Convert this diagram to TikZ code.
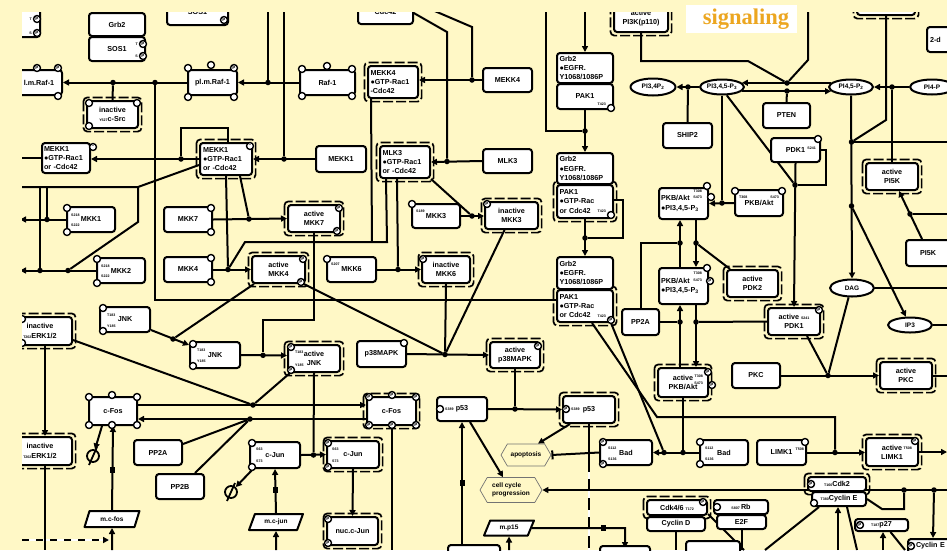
\documentclass[tikz,border=0pt]{standalone}
\usepackage{fontspec}
\setmainfont{Liberation Sans}
\newfontfamily\titleserif{Liberation Serif}
\usetikzlibrary{arrows.meta,shapes.geometric,shapes.symbols,calc}
\definecolor{paper}{RGB}{255,248,198}
\definecolor{gold}{RGB}{236,166,32}
\pgfdeclarelayer{edges}
\pgfsetlayers{edges,main}
\newcommand\tinyf{\fontsize{3.6}{4}\selectfont}
% \bx[opts]{name}{x1}{y1}{x2}{y2}{text}: box from corner to corner
\newcommand\bx[7][]{%
  \pgfmathsetmacro\bxcx{(#3+#5)/2}%
  \pgfmathsetmacro\bxcy{(#4+#6)/2}%
  \pgfmathsetmacro\bxw{#5-#3}%
  \pgfmathsetmacro\bxh{#6-#4}%
  \node[box,minimum width=\bxw pt,minimum height=\bxh pt,#1] (#2) at (\bxcx,\bxcy) {#7};}
\newcommand\site[4]{\node[site] (#1) at (#2,#3) {#4};}
\begin{document}
\begin{tikzpicture}[x=1pt,y=-1pt,line join=round,
  box/.style={draw,line width=2pt,rounded corners=3pt,fill=white,inner sep=1pt,
    font=\fontsize{7.2}{9.2}\selectfont\bfseries,align=center},
  lbox/.style={align=left},
  site/.style={circle,draw,line width=1.4pt,fill=white,minimum size=7pt,inner sep=0pt,
    font=\fontsize{4.6}{5}\selectfont\bfseries},
  lab/.style={font=\tinyf\bfseries,inner sep=0pt},
  ell/.style={ellipse,draw,line width=2pt,fill=white,inner sep=0pt,
    font=\fontsize{6.5}{7}\selectfont\bfseries},
  hexa/.style={signal,signal to=east and west,signal pointer angle=120,draw=black!55,
    line width=0.7pt,fill=paper,inner sep=1pt,font=\fontsize{6.5}{8}\selectfont\bfseries,align=left},
  para/.style={trapezium,trapezium left angle=62,trapezium right angle=118,trapezium stretches=true,
    draw,line width=2pt,fill=white,inner sep=0pt,font=\fontsize{6.5}{7}\selectfont\bfseries},
  degr/.style={circle,draw,line width=1.8pt,minimum size=12pt,inner sep=0pt},
  tmark/.style={fill,inner sep=0pt,minimum width=5pt,minimum height=6pt},
  dot/.style={circle,fill,inner sep=0pt,minimum size=5.5pt},
  ln/.style={line width=2pt},
  ar/.style={line width=2pt,-{Triangle[length=6pt,width=6pt]}},
  inh/.style={line width=2pt,-{Bar[width=9pt,line width=2pt]}},
  dframe/.style={line width=1.7pt,dash pattern=on 10pt off 3pt,rounded corners=4pt}]
\useasboundingbox (0,0) rectangle (947,550);

\begin{scope}
\clip (22,12) rectangle (947,550);
% ---------- upper left: Raf / SOS / c-Src / MEKK1
\bx{tlc}{-20}{5}{40}{37}{}
\site{tlcA}{37}{19}{P}\site{tlcB}{37}{33}{P}
\node[lab,anchor=east] (lb3) at (32,19) {T};
\node[lab,anchor=east] (lb4) at (32,33) {S};
\bx{grb2a}{89}{13}{145}{36}{Grb2}
\bx{sos1a}{89}{37}{145}{61}{SOS1}
\site{sos1aA}{143}{44}{P}\site{sos1aB}{143}{56}{P}
\node[lab,anchor=east] (lb1) at (138,44) {T};
\node[lab,anchor=east] (lb2) at (138,56) {S};
\bx{sos1b}{167}{0}{228}{25}{SOS1}
\site{sos1bA}{224}{20}{P}
\bx{cdcT}{358}{0}{413}{24}{Cdc42}
\bx{lmraf}{16}{70}{62}{95}{l.m.Raf-1}
\site{lmrafA}{37}{68}{P}\site{lmrafB}{58}{68}{P}\site{lmrafC}{58}{96}{}
\bx{plmraf}{188}{70}{237}{95}{pl.m.Raf-1}
\site{plmrafA}{188}{68}{}\site{plmrafB}{211}{65}{}\site{plmrafC}{234}{68}{P}
\site{plmrafD}{188}{97}{}\site{plmrafE}{234}{97}{}
\bx{raf1}{300}{70}{355}{95}{Raf-1}
\site{raf1A}{302}{69}{}\site{raf1B}{327}{66}{}\site{raf1C}{352}{69}{}
\site{raf1D}{302}{96}{}\site{raf1E}{352}{96}{}
\bx{csrc}{87}{101}{138}{128}{inactive\\{\tinyf Y527}c-Src}
\site{csrcA}{89}{103}{}\site{csrcB}{137}{103}{}\site{csrcC}{89}{126}{}
\bx[lbox,text width=44pt]{mekk1L}{42}{143}{90}{173}{MEKK1\\●GTP-Rac1\\or -Cdc42}
\site{mekk1LA}{93}{147}{--}
\bx[lbox,text width=46pt]{mekk1C}{200}{143}{252}{175}{MEKK1\\●GTP-Rac1\\or -Cdc42}
\site{mekk1CA}{250}{146}{--}
\bx{mekk1}{316}{146}{366}{172}{MEKK1}
\bx[lbox,text width=45pt]{mekk4C}{368}{66}{418}{98}{MEKK4\\●GTP-Rac1\\-Cdc42}
\bx{mekk4}{483}{68}{532}{92}{MEKK4}
\bx[lbox,text width=45pt]{mlk3C}{380}{146}{430}{178}{MLK3\\●GTP-Rac1\\or -Cdc42}
\bx{mlk3}{483}{149}{532}{173}{MLK3}
% ---------- Grb2 / PAK1 column
\bx{pi3k}{614}{4}{668}{32}{active\\PI3K(p110)}
\bx[lbox,text width=51pt]{grb2b}{557}{53}{613}{83}{Grb2\\●EGFR.\\Y1068/1086P}
\bx{pak1a}{557}{84}{613}{109}{PAK1}
\site{pak1aA}{611}{108}{}
\node[lab,anchor=east] (lb5) at (606,104) {T423};
\bx[lbox,text width=51pt]{grb2c}{557}{153}{613}{184}{Grb2\\●EGFR.\\Y1068/1086P}
\bx[lbox,text width=51pt]{pak1b}{557}{185}{613}{218}{PAK1\\●GTP-Rac\\or Cdc42}
\site{pak1bA}{611}{215}{}
\node[lab,anchor=east] (lb6) at (606,211) {T423};
\bx[lbox,text width=51pt]{grb2d}{557}{257}{613}{289}{Grb2\\●EGFR.\\Y1068/1086P}
\bx[lbox,text width=51pt]{pak1c}{557}{290}{613}{322}{PAK1\\●GTP-Rac\\or Cdc42}
\site{pak1cA}{611}{320}{P}
\node[lab,anchor=east] (lb7) at (606,316) {T423};
% ---------- phosphoinositides
\node[ell,minimum width=45pt,minimum height=17pt] (pi34p2) at (653,87) {PI3,4P\textsubscript{2}};
\node[ell,minimum width=44pt,minimum height=15pt] (pip3) at (722,87) {PI3,4,5-P\textsubscript{3}};
\node[ell,minimum width=44pt,minimum height=15pt] (pip2) at (851,87) {PI4,5-P\textsubscript{2}};
\node[ell,minimum width=44pt,minimum height=15pt] (pi4p) at (932,87) {PI4-P};
\node[ell,minimum width=44pt,minimum height=17pt] (dag) at (852,288) {DAG};
\node[ell,minimum width=44pt,minimum height=15pt] (ip3) at (910,325) {IP3};
\bx{ship2}{663}{123}{712}{148}{SHIP2}
\bx{pten}{763}{103}{810}{128}{PTEN}
\bx{pdk1}{771}{138}{820}{162}{PDK1}
\site{pdk1A}{818}{139}{}
\node[lab,anchor=east] (lb8) at (816,148) {S241};
\bx{pi5kact}{866}{163}{918}{190}{active\\PI5K}
\bx{topr}{857}{-10}{915}{15}{}
\bx[lbox,text width=57pt]{twod}{927}{27}{990}{52}{2-d}
% ---------- PKB/Akt
\bx[lbox,text width=45pt]{pkbU}{659}{188}{708}{219}{PKB/Akt\\●PI3,4,5-P\textsubscript{3}}
\site{pkbUA}{707}{186}{}\site{pkbUB}{711}{197}{}
\node[lab,anchor=east] (lb9) at (702,191) {T308};
\node[lab,anchor=east] (lb10) at (702,197) {S473};
\bx{pkbF}{735}{190}{783}{216}{PKB/Akt}
\site{pkbFA}{735}{191}{}\site{pkbFB}{782}{191}{}
\node[lab,anchor=west] (lb11) at (739,197) {T308};
\node[lab,anchor=east] (lb12) at (779,197) {S473};
\bx[lbox,text width=45pt]{pkbL}{659}{268}{708}{304}{PKB/Akt\\●PI3,4,5-P\textsubscript{3}}
\site{pkbLA}{707}{268}{}\site{pkbLB}{710}{281}{P}
\node[lab,anchor=east] (lb13) at (702,273) {T308};
\node[lab,anchor=east] (lb14) at (702,280) {S473};
\bx{pdk2}{727}{270}{778}{297}{active\\PDK2}
\bx{pi5k}{906}{240}{950}{266}{PI5K}
\bx{pdk1act}{768}{308}{820}{335}{active {\tinyf S241}\\PDK1}
\site{pdk1actA}{819}{310}{P}
\bx{pp2aR}{622}{309}{659}{335}{PP2A}
\bx{pkbAct}{658}{368}{708}{397}{active\\PKB/Akt}
\site{pkbActA}{708}{372}{P}\site{pkbActB}{712}{385}{P}
\node[lab,anchor=east] (lb15) at (703,376) {T308};
\node[lab,anchor=east] (lb16) at (703,383) {S473};
\bx{pkc}{732}{363}{780}{388}{PKC}
\bx{pkcAct}{880}{362}{932}{389}{active\\PKC}
\bx{limk1}{757}{440}{806}{465}{LIMK1}
\site{limk1A}{805}{442}{}
\node[lab,anchor=east] (lb17) at (804,449) {T508};
\bx{limk1Act}{866}{438}{918}{466}{active\\LIMK1}
\site{limk1ActA}{915}{441}{P}
\node[lab,anchor=east] (lb18) at (912,448) {T508};
\bx{bad1}{600}{440}{652}{465}{Bad}
\site{bad1A}{603}{442}{P}\site{bad1B}{603}{464}{P}
\node[lab,anchor=west] (lb19) at (608,448) {S112};
\node[lab,anchor=west] (lb20) at (608,459) {S136};
\bx{bad2}{700}{440}{748}{465}{Bad}
\site{bad2A}{700}{442}{}\site{bad2B}{700}{464}{}
\node[lab,anchor=west] (lb21) at (705,448) {S112};
\node[lab,anchor=west] (lb22) at (705,459) {S136};
% ---------- p53 / p38
\bx{p53L}{437}{397}{487}{421}{p53}
\site{p53LA}{440}{409}{}
\node[lab,anchor=west] (lb23) at (445,409) {S389};
\bx{p53Act}{563}{396}{615}{423}{p53}
\site{p53ActA}{566}{409}{P}
\node[lab,anchor=west] (lb24) at (571,409) {S389};
\bx{p38}{357}{341}{406}{367}{p38MAPK}
\site{p38A}{404}{343}{}
\bx{p38Act}{490}{342}{540}{368}{active\\p38MAPK}
\site{p38ActA}{538}{346}{P}
% ---------- MAP2Ks
\bx{mkk7act}{288}{205}{340}{232}{active\\MKK7}
\site{mkk7actA}{339}{208}{P}\site{mkk7actB}{337}{231}{P}
\bx{mkk4act}{252}{256}{305}{283}{active\\MKK4}
\site{mkk4actA}{303}{259}{P}\site{mkk4actB}{301}{282}{P}
\bx{mkk3}{412}{204}{460}{228}{MKK3}
\site{mkk3A}{412}{204}{}
\node[lab,anchor=west] (lb25) at (416,211) {S189};
\bx{mkk3i}{485}{202}{538}{229}{inactive\\MKK3}
\site{mkk3iA}{487}{204}{P}
\bx{mkk6}{327}{257}{376}{282}{MKK6}
\site{mkk6A}{327}{259}{}
\node[lab,anchor=west] (lb26) at (331,264) {S207};
\bx{mkk6i}{422}{256}{470}{283}{inactive\\MKK6}
\site{mkk6iA}{423}{259}{P}
\bx{mkk1}{67}{207}{115}{232}{MKK1}
\site{mkk1A}{67}{208}{}\site{mkk1B}{67}{232}{}
\node[lab,anchor=west] (lb29) at (71,215) {S218};
\node[lab,anchor=west] (lb30) at (71,225) {S222};
\bx{mkk2}{97}{258}{145}{283}{MKK2}
\site{mkk2A}{97}{259}{}\site{mkk2B}{97}{283}{}
\node[lab,anchor=west] (lb31) at (101,266) {S218};
\node[lab,anchor=west] (lb32) at (101,276) {S222};
\bx{mkk7}{164}{207}{212}{232}{MKK7}
\site{mkk7A}{211}{208}{}\site{mkk7B}{211}{232}{}
\bx{mkk4}{164}{257}{212}{282}{MKK4}
\site{mkk4A}{211}{258}{}\site{mkk4B}{211}{282}{}
% ---------- JNK / ERK
\bx{jnkL}{100}{307}{150}{332}{JNK}
\site{jnkLA}{103}{308}{}\site{jnkLB}{103}{331}{}
\node[lab,anchor=west] (lb33) at (107,315) {T183};
\node[lab,anchor=west] (lb34) at (107,326) {Y185};
\bx{jnkC}{190}{342}{240}{368}{JNK}
\site{jnkCA}{193}{344}{}\site{jnkCB}{193}{366}{}
\node[lab,anchor=west] (lb35) at (197,350) {T183};
\node[lab,anchor=west] (lb36) at (197,361) {Y185};
\bx{jnkAct}{288}{345}{340}{372}{active\\JNK}
\site{jnkActA}{291}{347}{P}\site{jnkActB}{291}{370}{P}
\node[lab,anchor=west] (lb37) at (295,352) {T183};
\node[lab,anchor=west] (lb38) at (295,365) {Y185};
\bx{erkA}{8}{317}{72}{345}{inactive\\{\tinyf T202}ERK1/2}
\site{erkAA}{22}{319}{}\site{erkAB}{22}{343}{}
\bx{erkB}{8}{437}{72}{465}{inactive\\{\tinyf T202}ERK1/2}
% ---------- c-Fos / c-Jun
\bx{cfos}{89}{397}{137}{425}{c-Fos}
\site{cfosA}{89}{397}{}\site{cfosB}{112}{395}{}\site{cfosC}{137}{397}{}
\site{cfosD}{89}{425}{}\site{cfosE}{112}{425}{}\site{cfosF}{137}{425}{}
\bx{cfosAct}{367}{397}{416}{425}{c-Fos}
\site{cfosActA}{369}{397}{P}\site{cfosActB}{392}{395}{P}\site{cfosActC}{416}{397}{P}
\site{cfosActD}{369}{425}{P}\site{cfosActE}{392}{425}{P}\site{cfosActF}{416}{425}{P}
\bx{pp2aL}{134}{440}{182}{465}{PP2A}
\bx{pp2b}{156}{474}{204}{499}{PP2B}
\bx{cjunL}{250}{442}{300}{468}{c-Jun}
\site{cjunLA}{252}{443}{}\site{cjunLB}{252}{467}{}
\node[lab,anchor=west] (lb39) at (256,449) {S63};
\node[lab,anchor=west] (lb40) at (256,461) {S73};
\bx{cjunAct}{327}{441}{379}{468}{c-Jun}
\site{cjunActA}{328}{443}{P}\site{cjunActB}{328}{467}{P}
\node[lab,anchor=west] (lb41) at (332,449) {S63};
\node[lab,anchor=west] (lb42) at (332,461) {S73};
\bx{nuccjun}{327}{517}{378}{545}{nuc.c-Jun}
\site{nuccjunA}{328}{519}{P}\site{nuccjunB}{328}{543}{P}
\node[para,minimum width=55pt,minimum height=16pt] (mcfos) at (112,519) {m.c-fos};
\node[para,minimum width=54pt,minimum height=16pt] (mcjun) at (276,522) {m.c-jun};
\node[para,minimum width=50pt,minimum height=15pt] (mp15) at (509,528) {m.p15};
\node[hexa,minimum width=50pt,minimum height=22pt] (apop) at (526,455) {apoptosis};
\node[hexa,minimum width=62pt,minimum height=25pt] (ccp) at (511,490) {cell cycle\\progression};
% ---------- cell cycle
\bx{cdk46}{647}{500}{707}{515}{Cdk4/6 {\tinyf T172}}
\site{cdk46A}{703}{502}{P}
\bx{cycD}{647}{517}{705}{531}{Cyclin D}
\bx{rb}{714}{500}{768}{514}{{\tinyf S807}\,Rb}
\site{rbA}{717}{507}{}
\bx{e2f}{717}{515}{766}{529}{E2F}
\bx{cdk2}{808}{477}{866}{491}{{\tinyf T160}Cdk2}
\site{cdk2A}{811}{484}{P}
\bx{cycE}{812}{492}{866}{506}{{\tinyf T380}Cyclin E}
\site{cycEA}{814}{503}{}
\bx{p27}{855}{519}{908}{531}{{\tinyf T187}p27}
\site{p27A}{860}{525}{P}
\bx[lbox,text width=74pt]{cycE2}{908}{539}{990}{553}{\hspace{4pt}Cyclin E}
\site{cycE2A}{911}{546}{P}
\bx{bp1}{448}{545}{500}{565}{}
\bx{bp2}{600}{546}{650}{566}{}
\bx{bp3}{686}{541}{740}{566}{}
% ---------- degradation, translation marks
\node[degr] (dg1) at (93,456) {};
\draw[line width=1.8pt] ($(dg1)+(-4,9)$) -- ($(dg1)+(4,-9)$);
\node[degr] (dg2) at (231,492) {};
\draw[line width=1.8pt] ($(dg2)+(-4,9)$) -- ($(dg2)+(4,-9)$);
\node[tmark] (tm1) at (112.5,470) {};
\node[tmark] (tm2) at (275.5,490) {};
\node[tmark] (tm3) at (462,483) {};
\node[tmark] (tm4) at (603,528) {};
% ---------- junction dots
\node[dot] (j1) at (268,82.5) {};
\node[dot] (j2) at (113,82.5) {};
\node[dot] (j3) at (155,82.5) {};
\node[dot] (j4) at (181,159) {};
\node[dot] (j5) at (284,159) {};
\node[dot] (j6) at (472,80) {};
\node[dot] (j7) at (447,161.5) {};
\node[dot] (j8) at (585,131) {};
\node[dot] (j9) at (585,238) {};
\node[dot] (j10) at (787,83) {};
\node[dot] (j11) at (787,91) {};
\node[dot] (j12) at (688,87) {};
\node[dot] (j13) at (892,87) {};
\node[dot] (j14) at (851.5,142) {};
\node[dot] (j15) at (851.5,206) {};
\node[dot] (j16) at (910,214) {};
\node[dot] (j17) at (795,185) {};
\node[dot] (j18) at (722,203) {};
\node[dot] (j19) at (680,243) {};
\node[dot] (j20) at (696,243) {};
\node[dot] (j21) at (680,322) {};
\node[dot] (j22) at (696,322) {};
\node[dot] (j23) at (683,452.5) {};
\node[dot] (j24) at (664,452.5) {};
\node[dot] (j25) at (835,452.5) {};
\node[dot] (j26) at (828,375.5) {};
\node[dot] (j27) at (515,409) {};
\node[dot] (j28) at (445,354.5) {};
\node[dot] (j29) at (398,269.5) {};
\node[dot] (j30) at (472,216) {};
\node[dot] (j31) at (228,269.5) {};
\node[dot] (j32) at (249,219) {};
\node[dot] (j33) at (263,355.3) {};
\node[dot] (j34) at (173,339) {};
\node[dot] (j35) at (313.5,455) {};
\node[dot] (j36) at (253,405) {};
\node[dot] (j37) at (250,419) {};
\node[dot] (j38) at (47,219.5) {};
\node[dot] (j39) at (40,270.5) {};
\node[dot] (j40) at (68,270.5) {};
\node[dot] (j41) at (904,490) {};
\node[dot] (j42) at (934,490) {};
% ---------- free ends of connectors
\coordinate (e1) at (268,0);   \coordinate (e2) at (0,158);
\coordinate (e3) at (284,0);   \coordinate (e4) at (430,9);
\coordinate (e5) at (405,8);   \coordinate (e6) at (585,0);
\coordinate (e7) at (546,0);   \coordinate (e8) at (808,0);
\coordinate (e9) at (947,142); \coordinate (e10) at (947,214);
\coordinate (e11) at (947,288);\coordinate (e12) at (947,325);
\coordinate (e13) at (947,452);\coordinate (e14) at (947,375.5);
\coordinate (e15) at (589,550);\coordinate (e16) at (947,490);
\coordinate (e17) at (625,548);\coordinate (e18) at (509,550);
\coordinate (e19) at (676,550);\coordinate (e20) at (744,550);
\coordinate (e21) at (741.5,550);\coordinate (e22) at (765,550);
\coordinate (e23) at (838,550);\coordinate (e24) at (857,550);
\coordinate (e25) at (883,550);\coordinate (e26) at (905,550);
\coordinate (e27) at (276,550);\coordinate (e28) at (112,550);
\coordinate (e29) at (22,540); \coordinate (e29b) at (109,540);
\coordinate (e30) at (391.5,550);\coordinate (e31) at (462,550);
\coordinate (e32) at (45,550); \coordinate (e33) at (20,219.5);
\coordinate (e34) at (20,270.5);\coordinate (e35) at (20,187);
\coordinate (p53d) at (589,460);
\end{scope}

\begin{pgfonlayer}{edges}
\fill[paper] (0,0) rectangle (947,550);
\begin{scope}
\clip (22,12) rectangle (947,550);
% complex / active frames
\foreach \n in {csrc,mekk1C,mekk4C,mlk3C,pi3k,pak1b,pak1c,pi5kact,topr,pdk2,pdk1act,
  pkbAct,pkcAct,limk1Act,p53Act,p38Act,mkk7act,mkk4act,mkk3i,mkk6i,jnkAct,erkA,erkB,
  cfosAct,cjunAct,nuccjun,cdk46,cdk2}
  {\draw[dframe] ($(\n.north west)+(-2.6,-2.6)$) rectangle ($(\n.south east)+(2.6,2.6)$);}
% Raf activation
\draw[ar] (raf1.west) -- (plmraf.east);
\draw[ar] (plmraf.west) -- (lmraf.east);
\draw[ln] (e1) -- (j1);
\draw[ln] (j2) -- (csrc.north);
\draw[ln] (j3) -- (155,300) -- ($(pak1c.west)+(0,-6)$);
% MEKK1
\draw[ar] (mekk1C.west) -- ($(mekk1L.east)+(0,1)$);
\draw[ln] (j4) -- (181,128) -- (228,128) -- ($(mekk1C.north)+(2,0)$);
\draw[ln] (e2) -- (mekk1L.west);
\draw[ar] (mekk1.west) -- (mekk1C.east);
\draw[ln] (e3) -- (j5);
% MEKK4 / MLK3
\draw[ar] (mekk4.west) -- ($(mekk4C.east)+(0,-2)$);
\draw[ln] (e4) -- (472,27) -- (j6);
\draw[ar] (mlk3.west) -- (mlk3C.east);
\draw[ln] (e5) -- (447,32) -- (j7);
% Grb2 / PAK1
\draw[ar] (e6) -- (grb2b.north);
\draw[ar] (pak1a.south) -- (grb2c.north);
\draw[ln] (e7) -- (546,131) -- (j8);
\draw[ar] (pak1b.south) -- (grb2d.north);
\draw[ln] ($(pak1b.east)+(0,-2)$) -- (623,199.5) -- (623,238) -- (j9);
% phosphoinositides
\draw[ln] (pi3k.south) -- (641,61) -- (748,61) -- (j10);
\draw[ln] (e8) -- (808,60) -- (j10);
\draw[ar] (pip2.168) -- (pip3.12);
\draw[ar] (pip3.348) -- (pip2.192);
\draw[ln] (j11) -- (pten.north);
\draw[ar] (pip3.west) -- (pi34p2.east);
\draw[ln] (j12) -- (ship2.north);
\draw[ar] (pi4p.west) -- (pip2.east);
\draw[ln] (j13) -- (pi5kact.north);
\draw[ln] (topr.south) -- (886,120) -- (j14);
\draw[ln] (j14) -- (e9);
\draw[ar] (pip2.south) -- (dag.north);
\draw[ar] (j15) -- (ip3);
\draw[ar] ($(pi5k.north)+(-6,0)$) -- ($(pi5kact.south)+(7,0)$);
\draw[ln] (j16) -- (e10);
\draw[ln] (dag.east) -- (e11);
\draw[ln] (ip3.east) -- (e12);
% PDK1
\draw[ar] (pdk1.south) -- (pdk1act.north);
\draw[ln] (pip3.300) -- (j17);
\draw[ln] (pdk1.east) -- (826,150) -- (826,185) -- (j17);
% PKB/Akt
\draw[ln] (pip3.south) -- (j18);
\draw[ar] (pkbF.west) -- (pkbU.east);
\draw[ar] ($(pkbU.south)+(12.5,0)$) -- ($(pkbL.north)+(12.5,0)$);
\draw[ar] ($(pkbL.north)+(-3.5,0)$) -- ($(pkbU.south)+(-3.5,0)$);
\draw[ln] (pp2aR.north) -- (640.5,243) -- (j19);
\draw[ln] ($(pdk2.north west)+(4,0)$) -- (j20);
\draw[ar] ($(pkbL.south)+(12.5,0)$) -- ($(pkbAct.north)+(13,0)$);
\draw[ar] ($(pkbAct.north)+(-3,0)$) -- ($(pkbL.south)+(-3.5,0)$);
\draw[ln] (pdk1act.west) -- (j22);
\draw[ln] (pp2aR.east) -- (j21);
% Bad, LIMK1, PKC
\draw[ar] (bad2.west) -- (bad1.east);
\draw[ln] (pkbAct.south) -- (j23);
\draw[ln] ($(pak1c.south)+(26,0)$) -- (j24);
\draw[ln] ($(pak1c.south)+(7,0)$) -- (657,417) -- (835,417) -- (j25);
\draw[ar] (limk1.east) -- ($(limk1Act.west)+(0,0.5)$);
\draw[ar] (limk1Act.east) -- (e13);
\draw[ar] (pkc.east) -- (pkcAct.west);
\draw[ln] (dag.250) -- (j26);
\draw[ln] ($(pdk1act.south east)+(-14,0)$) -- (j26);
\draw[ln] (pkcAct.east) -- (e14);
% p53, apoptosis, cell cycle
\draw[ar] (p53L.east) -- (p53Act.west);
\draw[ln] (p38Act.south) -- (j27);
\draw[ar] ($(p53Act.south west)+(8,0)$) -- ($(apop.north)+(12,0)$);
\draw[inh] (bad1.west) -- (apop.east);
\draw[ln] (p53Act.south) -- (p53d);
\draw[line width=2pt,white] (p53d) -- (e15);
\draw[ln,dash pattern=on 12pt off 7pt] (p53d) -- (e15);
\draw[ar] ($(p53L.south)+(8,0)$) -- ($(ccp.north)+(-8,0)$);
\draw[ar] (e16) -- (ccp.east);
\draw[ar] (mp15.east) -- (625,528) -- (e17);
\draw[ar] (e18) -- (mp15.south);
\draw[ln] (cycD.south) -- (e19);
\draw[ln] ($(cdk46.south east)+(0,-2)$) -- (e20);
\draw[ln] (e2f.south) -- (e21);
\draw[ln] ($(cycE.south west)+(8,0)$) -- (e22);
\draw[ar] (e23) -- ($(cycE.south)+(-1,0)$);
\draw[ln] ($(cycE.south)+(8,0)$) -- (e24);
\draw[ar] (e25) -- ($(p27.south)+(1.5,0)$);
\draw[ln] ($(p27.south)+(9,0)$) -- (e26);
\draw[ln] (cycE.east) -- (882,509) -- (904,509) -- (j41);
\draw[ar] (j42) -- ($(cycE2.north west)+(26,0)$);
% p38 MAPK cascade
\draw[ar] (p38.east) -- (p38Act.west);
\draw[ln] ($(mkk4act.south east)+(-2,0)$) -- (j28);
\draw[ln] (mkk6i.south) -- (j28);
\draw[ln] ($(mkk3i.south)+(-7,0)$) -- (j28);
\draw[ar] (mkk6.east) -- (mkk6i.west);
\draw[ln] ($(mlk3C.south west)+(18,0)$) -- (j29);
\draw[ar] (mkk3.east) -- ($(mkk3i.west)+(0,0.5)$);
\draw[ln] (mlk3C.south east) -- (j30);
% JNK cascade
\draw[ln] ($(mlk3C.south west)+(7,0)$) -- (387,242) -- (245,242) -- (j31);
\draw[ln] ($(mekk4C.south west)+(4,0)$) -- (372,242);
\draw[ar] (mkk4.east) -- (mkk4act.west);
\draw[ln] (mekk1C.south) -- (j31);
\draw[ar] (mkk7.east) -- (mkk7act.west);
\draw[ln] ($(mekk1C.south)+(14,0)$) -- (j32);
\draw[ln] (mkk7act.south) -- (314,320) -- (263,320) -- (j33);
\draw[ar] (jnkC.east) -- ($(jnkAct.west)+(0,-3)$);
\draw[ar] ($(jnkL.south east)+(0,-3)$) -- ($(jnkC.north west)+(0,4)$);
\draw[ln] ($(mkk4act.south west)+(3,0)$) -- (j34);
% MKK1/2
\draw[ar] (mkk1.west) -- (e33);
\draw[ar] (mkk2.west) -- (e34);
\draw[ln] ($(mekk1C.west)+(0,6)$) -- (138,187) -- (e35);
\draw[ln] (40,187) -- (j39);
\draw[ln] (47,187) -- (j38);
\draw[ln] (138,187) -- (138,222) -- (j40);
% c-Jun
\draw[ln] (jnkAct.south) -- (j35);
\draw[ar] (cjunL.east) -- (cjunAct.west);
\draw[ar] (cjunAct.south) -- (nuccjun.north);
\draw[ar] (mcjun.north) -- (cjunL.south);
\draw[ar] (e27) -- (mcjun.south);
\draw[ar] ($(cjunL.south west)+(4,0)$) -- (dg2);
% c-Fos
\draw[ar] ($(cfos.south west)+(14,0)$) -- (dg1);
\draw[ar] (mcfos.north) -- (cfos.south);
\draw[ar] (e28) -- (mcfos.south);
\draw[line width=2pt,white] (e29) -- (e29b);
\draw[ar,dash pattern=on 7pt off 7pt] (e29) -- (e29b);
\draw[ar] ($(cfos.east)+(0,-6)$) -- ($(cfosAct.west)+(0,-6)$);
\draw[ar] ($(cfosAct.west)+(0,8)$) -- ($(cfos.east)+(0,8)$);
\draw[ln] ($(erkA.east)+(0,9)$) -- (j36);
\draw[ln] ($(jnkAct.south west)+(3,0)$) -- (j36);
\draw[ln] ($(pp2aL.north east)+(0,5)$) -- (j37);
\draw[ln] ($(pp2b.north east)+(-10,0)$) -- (j37);
\draw[ln] (cfosAct.south) -- (e30);
\draw[ar] (e31) -- (p53L.south);
% ERK
\draw[ar] ($(erkA.south)+(5,0)$) -- ($(erkB.north)+(5,0)$);
\draw[ln] ($(erkB.south)+(5,0)$) -- (e32);
\end{scope}
\end{pgfonlayer}

% title tag
\fill[white] (686,5) rectangle (797,33);
\node[font=\titleserif\bfseries\fontsize{22.5}{23}\selectfont,text=gold,inner sep=0pt] (sig) at (746,19.5) {signaling};
\end{tikzpicture}
\end{document}
